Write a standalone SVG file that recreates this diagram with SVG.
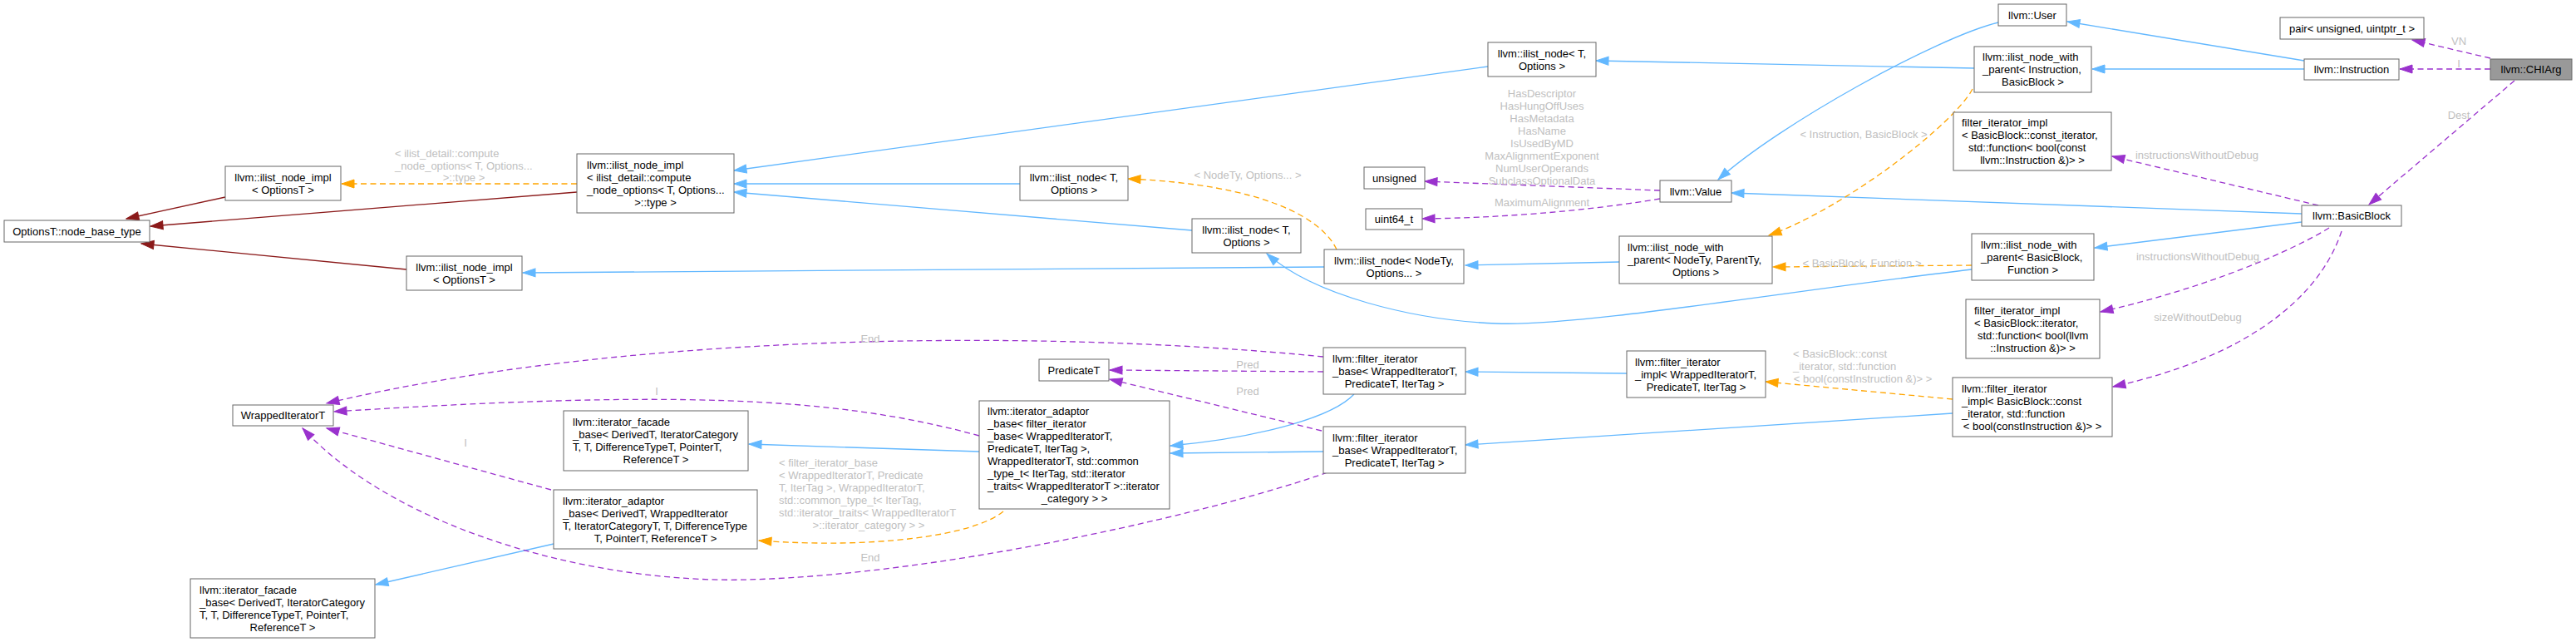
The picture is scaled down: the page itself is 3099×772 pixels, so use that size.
<svg xmlns="http://www.w3.org/2000/svg" width="3099" height="772" viewBox="0 0 3099 772">
<style>
.n rect{fill:#fff;stroke:#666;stroke-width:1}
.n text{font-family:"Liberation Sans",Arial,Helvetica,sans-serif;font-size:13px;fill:#000}
.c{text-anchor:middle}
.l{font-family:"Liberation Sans",Arial,Helvetica,sans-serif;font-size:13px;fill:#c0c0c0}
.e path{fill:none;stroke-width:1.3}
.b{stroke:#63b8ff}
.r{stroke:#8b1a1a}
.o{stroke:#ffa500;stroke-dasharray:7,4.5}
.p{stroke:#9a32cd;stroke-dasharray:7,4.5}
</style>
<defs>
<marker id="mb" markerUnits="userSpaceOnUse" markerWidth="17" markerHeight="12" refX="15" refY="5.5" orient="auto" overflow="visible"><path d="M0,0.5 L15,5.5 L0,10.5 z" fill="#63b8ff" stroke="#63b8ff" stroke-width="1"/></marker>
<marker id="mr" markerUnits="userSpaceOnUse" markerWidth="17" markerHeight="12" refX="15" refY="5.5" orient="auto" overflow="visible"><path d="M0,0.5 L15,5.5 L0,10.5 z" fill="#8b1a1a" stroke="#8b1a1a" stroke-width="1"/></marker>
<marker id="mo" markerUnits="userSpaceOnUse" markerWidth="17" markerHeight="12" refX="15" refY="5.5" orient="auto" overflow="visible"><path d="M0,0.5 L15,5.5 L0,10.5 z" fill="#ffa500" stroke="#ffa500" stroke-width="1"/></marker>
<marker id="mp" markerUnits="userSpaceOnUse" markerWidth="17" markerHeight="12" refX="15" refY="5.5" orient="auto" overflow="visible"><path d="M0,0.5 L15,5.5 L0,10.5 z" fill="#9a32cd" stroke="#9a32cd" stroke-width="1"/></marker>
</defs>
<rect x="0" y="0" width="3099" height="772" fill="#fff"/>

<g id="connectors" class="e">
<!-- blue: inheritance -->
<path class="b" marker-end="url(#mb)" d="M2772,73 L2487,26"/>
<path class="b" marker-end="url(#mb)" d="M2772,83 L2517,83"/>
<path class="b" marker-end="url(#mb)" d="M2404,27 C2330,45 2140,150 2067,216"/>
<path class="b" marker-end="url(#mb)" d="M2375,82 L1920,73"/>
<path class="b" marker-end="url(#mb)" d="M1790,80 L883,205"/>
<path class="b" marker-end="url(#mb)" d="M1227,221 L883,221"/>
<path class="b" marker-end="url(#mb)" d="M1434,277 L883,231"/>
<path class="b" marker-end="url(#mb)" d="M2769,257 L2083,232"/>
<path class="b" marker-end="url(#mb)" d="M2769,267 L2520,298"/>
<path class="b" marker-end="url(#mb)" d="M2372,324 C2150,350 1900,393 1800,389 C1700,385 1580,355 1524,305"/>
<path class="b" marker-end="url(#mb)" d="M1948,315 L1763,319"/>
<path class="b" marker-end="url(#mb)" d="M1593,321 L629,328"/>
<path class="b" marker-end="url(#mb)" d="M1957,449 L1763,447"/>
<path class="b" marker-end="url(#mb)" d="M2349,497 L1763,535"/>
<path class="b" marker-end="url(#mb)" d="M1629,474 C1600,505 1500,528 1408,536"/>
<path class="b" marker-end="url(#mb)" d="M1592,543 L1408,545"/>
<path class="b" marker-end="url(#mb)" d="M1178,543 L901,534"/>
<path class="b" marker-end="url(#mb)" d="M666,654 L452,703"/>
<!-- dark red -->
<path class="r" marker-end="url(#mr)" d="M271,237 L152,263"/>
<path class="r" marker-end="url(#mr)" d="M694,231 L181,272"/>
<path class="r" marker-end="url(#mr)" d="M489,324 L170,293"/>
<!-- orange: template instance -->
<path class="o" marker-end="url(#mo)" d="M694,221 L411,221"/>
<path class="o" marker-end="url(#mo)" d="M1608,300 C1590,262 1520,222 1357,215"/>
<path class="o" marker-end="url(#mo)" d="M2373,107 C2350,150 2220,250 2128,283"/>
<path class="o" marker-end="url(#mo)" d="M2372,319 L2133,321"/>
<path class="o" marker-end="url(#mo)" d="M2349,480 L2124,459"/>
<path class="o" marker-end="url(#mo)" d="M1207,615 C1170,645 1050,660 913,650"/>
<!-- purple: usage -->
<path class="p" marker-end="url(#mp)" d="M2996,70 L2902,48"/>
<path class="p" marker-end="url(#mp)" d="M2996,83 L2887,83"/>
<path class="p" marker-end="url(#mp)" d="M3025,97 L2850,246"/>
<path class="p" marker-end="url(#mp)" d="M2789,247 L2541,188"/>
<path class="p" marker-end="url(#mp)" d="M2802,274 C2760,300 2660,345 2527,375"/>
<path class="p" marker-end="url(#mp)" d="M2817,278 C2790,360 2700,430 2542,465"/>
<path class="p" marker-end="url(#mp)" d="M1997,229 L1714,218"/>
<path class="p" marker-end="url(#mp)" d="M1997,239 C1900,255 1800,262 1711,263"/>
<path class="p" marker-end="url(#mp)" d="M1592,447 L1335,445"/>
<path class="p" marker-end="url(#mp)" d="M1590,518 L1335,456"/>
<path class="p" marker-end="url(#mp)" d="M1592,429 C1250,395 750,400 393,485"/>
<path class="p" marker-end="url(#mp)" d="M1178,524 C1000,475 800,470 402,495"/>
<path class="p" marker-end="url(#mp)" d="M663,589 L393,515"/>
<path class="p" marker-end="url(#mp)" d="M1597,568 C1480,610 1150,690 900,697 C720,702 480,640 364,515"/>
</g>

<g id="edge-labels">
<text class="l" x="475" y="188.5">&lt; ilist_detail::compute</text>
<text class="l" x="475" y="203.5">_node_options&lt; T, Options...</text>
<text class="l c" x="558" y="218">&gt;::type &gt;</text>
<text class="l c" x="1501" y="214.5">&lt; NodeTy, Options... &gt;</text>
<text class="l c" x="1855" y="116.5">HasDescriptor</text>
<text class="l c" x="1855" y="131.5">HasHungOffUses</text>
<text class="l c" x="1855" y="146.5">HasMetadata</text>
<text class="l c" x="1855" y="161.5">HasName</text>
<text class="l c" x="1855" y="176.5">IsUsedByMD</text>
<text class="l c" x="1855" y="191.5">MaxAlignmentExponent</text>
<text class="l c" x="1855" y="206.5">NumUserOperands</text>
<text class="l c" x="1855" y="221.5">SubclassOptionalData</text>
<text class="l c" x="1855" y="247.5">MaximumAlignment</text>
<text class="l c" x="2242" y="165.5">&lt; Instruction, BasicBlock &gt;</text>
<text class="l c" x="2240" y="321">&lt; BasicBlock, Function &gt;</text>
<text class="l c" x="2958" y="53.5">VN</text>
<text class="l c" x="2958" y="80.5">I</text>
<text class="l c" x="2958" y="142.5">Dest</text>
<text class="l c" x="2643" y="190.5">instructionsWithoutDebug</text>
<text class="l c" x="2644" y="312.5">instructionsWithoutDebug</text>
<text class="l c" x="2644" y="385.5">sizeWithoutDebug</text>
<text class="l" x="2157" y="429.5">&lt; BasicBlock::const</text>
<text class="l" x="2157" y="444.5">_iterator, std::function</text>
<text class="l c" x="2241" y="459.5">&lt; bool(constInstruction &amp;)&gt; &gt;</text>
<text class="l c" x="1047" y="412">End</text>
<text class="l c" x="1501" y="442.5">Pred</text>
<text class="l c" x="1501" y="474.5">Pred</text>
<text class="l c" x="790" y="474.5">I</text>
<text class="l c" x="560" y="536.5">I</text>
<text class="l c" x="1047" y="674.5">End</text>
<text class="l" x="937" y="560.5">&lt; filter_iterator_base</text>
<text class="l" x="937" y="575.5">&lt; WrappedIteratorT, Predicate</text>
<text class="l" x="937" y="590.5">T, IterTag &gt;, WrappedIteratorT,</text>
<text class="l" x="937" y="605.5">std::common_type_t&lt; IterTag,</text>
<text class="l" x="937" y="620.5">std::iterator_traits&lt; WrappedIteratorT</text>
<text class="l c" x="1045" y="635.5">&gt;::iterator_category &gt; &gt;</text>
</g>

<g id="node-chiarg" class="n"><rect x="2996" y="71" width="98" height="25" style="fill:#999"/><text class="c" x="3045" y="88">llvm::CHIArg</text></g>
<g id="node-pair" class="n"><rect x="2743" y="21" width="173" height="26"/><text class="c" x="2829.5" y="38.5">pair&lt; unsigned, uintptr_t &gt;</text></g>
<g id="node-instruction" class="n"><rect x="2772" y="71" width="114" height="25"/><text class="c" x="2829" y="88">llvm::Instruction</text></g>
<g id="node-basicblock" class="n"><rect x="2769" y="247" width="120" height="25"/><text class="c" x="2829" y="264">llvm::BasicBlock</text></g>
<g id="node-user" class="n"><rect x="2404" y="5" width="82" height="26"/><text class="c" x="2445" y="22.5">llvm::User</text></g>
<g id="node-ilwp-inst" class="n"><rect x="2375" y="56" width="141" height="55"/><text x="2385" y="73">llvm::ilist_node_with</text><text x="2385" y="88">_parent&lt; Instruction,</text><text class="c" x="2445.5" y="103">BasicBlock &gt;</text></g>
<g id="node-fii-const-top" class="n"><rect x="2350" y="135" width="190" height="70"/><text x="2360" y="152">filter_iterator_impl</text><text x="2360" y="167">&lt; BasicBlock::const_iterator,</text><text x="2368" y="182">std::function&lt; bool(const</text><text class="c" x="2445" y="197">llvm::Instruction &amp;)&gt; &gt;</text></g>
<g id="node-value" class="n"><rect x="1997" y="217" width="86" height="26"/><text class="c" x="2040" y="234.5">llvm::Value</text></g>
<g id="node-unsigned" class="n"><rect x="1641" y="201" width="73" height="26"/><text class="c" x="1677.5" y="218.5">unsigned</text></g>
<g id="node-uint64" class="n"><rect x="1643" y="251" width="68" height="25"/><text class="c" x="1677" y="268">uint64_t</text></g>
<g id="node-ilist-node-top" class="n"><rect x="1790" y="51" width="130" height="41"/><text class="c" x="1855" y="68.5">llvm::ilist_node&lt; T,</text><text class="c" x="1855" y="83.5">Options &gt;</text></g>
<g id="node-ilwp-nodety" class="n"><rect x="1948" y="284" width="184" height="57"/><text x="1958" y="302">llvm::ilist_node_with</text><text x="1958" y="317">_parent&lt; NodeTy, ParentTy,</text><text class="c" x="2040" y="332">Options &gt;</text></g>
<g id="node-ilwp-bb" class="n"><rect x="2372" y="281" width="147" height="56"/><text x="2383" y="298.5">llvm::ilist_node_with</text><text x="2383" y="313.5">_parent&lt; BasicBlock,</text><text class="c" x="2445.5" y="328.5">Function &gt;</text></g>
<g id="node-fii-iter" class="n"><rect x="2365" y="360" width="161" height="71"/><text x="2375" y="377.5">filter_iterator_impl</text><text x="2375" y="392.5">&lt; BasicBlock::iterator,</text><text x="2379" y="407.5">std::function&lt; bool(llvm</text><text class="c" x="2445.5" y="422.5">::Instruction &amp;)&gt; &gt;</text></g>
<g id="node-fii-const" class="n"><rect x="2349" y="454" width="192" height="71"/><text x="2360" y="471.5">llvm::filter_iterator</text><text x="2360" y="486.5">_impl&lt; BasicBlock::const</text><text x="2360" y="501.5">_iterator, std::function</text><text class="c" x="2445" y="516.5">&lt; bool(constInstruction &amp;)&gt; &gt;</text></g>
<g id="node-ilist-node-nodety" class="n"><rect x="1593" y="300" width="168" height="41"/><text class="c" x="1677" y="317.5">llvm::ilist_node&lt; NodeTy,</text><text class="c" x="1677" y="332.5">Options... &gt;</text></g>
<g id="node-fi-impl" class="n"><rect x="1957" y="422" width="167" height="56"/><text x="1967" y="439.5">llvm::filter_iterator</text><text x="1967" y="454.5">_impl&lt; WrappedIteratorT,</text><text class="c" x="2040.5" y="469.5">PredicateT, IterTag &gt;</text></g>
<g id="node-fib-upper" class="n"><rect x="1592" y="418" width="171" height="56"/><text x="1603" y="435.5">llvm::filter_iterator</text><text x="1603" y="450.5">_base&lt; WrappedIteratorT,</text><text class="c" x="1677.5" y="465.5">PredicateT, IterTag &gt;</text></g>
<g id="node-fib-lower" class="n"><rect x="1592" y="513" width="171" height="56"/><text x="1603" y="530.5">llvm::filter_iterator</text><text x="1603" y="545.5">_base&lt; WrappedIteratorT,</text><text class="c" x="1677.5" y="560.5">PredicateT, IterTag &gt;</text></g>
<g id="node-ilist-node-mid" class="n"><rect x="1227" y="200" width="130" height="41"/><text class="c" x="1292" y="217.5">llvm::ilist_node&lt; T,</text><text class="c" x="1292" y="232.5">Options &gt;</text></g>
<g id="node-ilist-node-low" class="n"><rect x="1434" y="263" width="131" height="41"/><text class="c" x="1499.5" y="280.5">llvm::ilist_node&lt; T,</text><text class="c" x="1499.5" y="295.5">Options &gt;</text></g>
<g id="node-ilist-node-impl-compute" class="n"><rect x="694" y="185" width="189" height="71"/><text x="706" y="202.5">llvm::ilist_node_impl</text><text x="706" y="217.5">&lt; ilist_detail::compute</text><text x="706" y="232.5">_node_options&lt; T, Options...</text><text class="c" x="788.5" y="247.5">&gt;::type &gt;</text></g>
<g id="node-ilist-node-impl-upper" class="n"><rect x="271" y="200" width="139" height="41"/><text class="c" x="340.5" y="217.5">llvm::ilist_node_impl</text><text class="c" x="340.5" y="232.5">&lt; OptionsT &gt;</text></g>
<g id="node-ilist-node-impl-lower" class="n"><rect x="489" y="308" width="139" height="41"/><text class="c" x="558.5" y="325.5">llvm::ilist_node_impl</text><text class="c" x="558.5" y="340.5">&lt; OptionsT &gt;</text></g>
<g id="node-node-base-type" class="n"><rect x="5" y="265" width="175" height="26"/><text class="c" x="92.5" y="282.5">OptionsT::node_base_type</text></g>
<g id="node-predicatet" class="n"><rect x="1250" y="432" width="84" height="26"/><text class="c" x="1292" y="449.5">PredicateT</text></g>
<g id="node-iter-adaptor-filter" class="n"><rect x="1178" y="482" width="229" height="130"/><text x="1188" y="499">llvm::iterator_adaptor</text><text x="1188" y="514">_base&lt; filter_iterator</text><text x="1188" y="529">_base&lt; WrappedIteratorT,</text><text x="1188" y="544">PredicateT, IterTag &gt;,</text><text x="1188" y="559">WrappedIteratorT, std::common</text><text x="1188" y="574">_type_t&lt; IterTag, std::iterator</text><text x="1188" y="589">_traits&lt; WrappedIteratorT &gt;::iterator</text><text class="c" x="1292.5" y="604">_category &gt; &gt;</text></g>
<g id="node-iter-facade-upper" class="n"><rect x="678" y="494" width="222" height="72"/><text x="689" y="512">llvm::iterator_facade</text><text x="689" y="527">_base&lt; DerivedT, IteratorCategory</text><text x="689" y="542">T, T, DifferenceTypeT, PointerT,</text><text class="c" x="789" y="557">ReferenceT &gt;</text></g>
<g id="node-iter-adaptor-derived" class="n"><rect x="666" y="589" width="245" height="71"/><text x="677" y="606.5">llvm::iterator_adaptor</text><text x="677" y="621.5">_base&lt; DerivedT, WrappedIterator</text><text x="677" y="636.5">T, IteratorCategoryT, T, DifferenceType</text><text class="c" x="788.5" y="651.5">T, PointerT, ReferenceT &gt;</text></g>
<g id="node-wrapped-iterator" class="n"><rect x="280" y="487" width="121" height="25"/><text class="c" x="340.5" y="504">WrappedIteratorT</text></g>
<g id="node-iter-facade-lower" class="n"><rect x="229" y="696" width="222" height="71"/><text x="240" y="713.5">llvm::iterator_facade</text><text x="240" y="728.5">_base&lt; DerivedT, IteratorCategory</text><text x="240" y="743.5">T, T, DifferenceTypeT, PointerT,</text><text class="c" x="340" y="758.5">ReferenceT &gt;</text></g>
</svg>
